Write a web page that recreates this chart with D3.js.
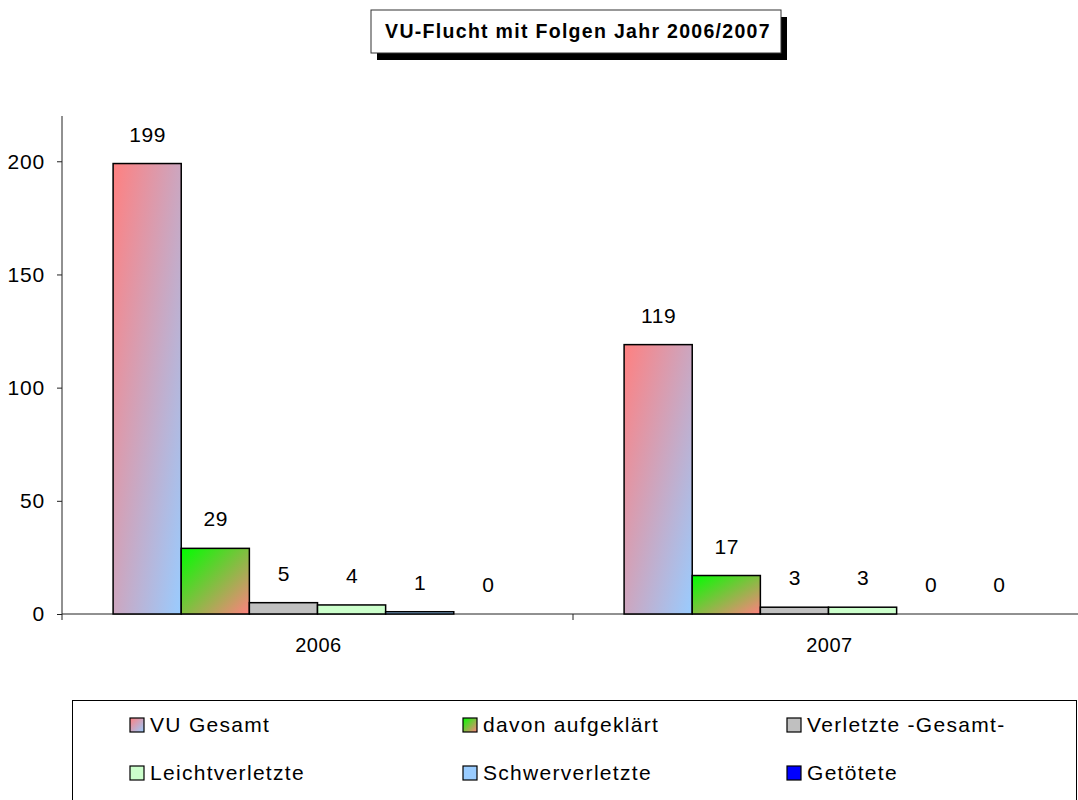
<!DOCTYPE html>
<html>
<head>
<meta charset="utf-8">
<script src="https://cdn.jsdelivr.net/npm/d3@7/dist/d3.min.js"></script>
<style>
  html, body { margin: 0; padding: 0; background: #fff; }
  svg { display: block; font-family: "Liberation Sans", Arial, sans-serif; }
</style>
</head>
<body>
<svg id="chart" width="1078" height="800"></svg>
<script>
const title = "VU-Flucht mit Folgen Jahr 2006/2007";
const categories = ["2006", "2007"];
const seriesNames = ["VU Gesamt", "davon aufgeklärt", "Verletzte -Gesamt-", "Leichtverletzte", "Schwerverletzte", "Getötete"];
const values2006 = [199, 29, 5, 4, 1, 0];
const values2007 = [119, 17, 3, 3, 0, 0];
const yTicks = [0, 50, 100, 150, 200];

const svg = d3.select("#chart");
const defs = svg.append("defs");

function grad(id, c1, c2) {
  const g = defs.append("linearGradient").attr("id", id)
    .attr("x1", 0).attr("y1", 0).attr("x2", 1).attr("y2", 1);
  g.append("stop").attr("offset", "0%").attr("stop-color", c1);
  g.append("stop").attr("offset", "100%").attr("stop-color", c2);
}
grad("g0", "#FF8080", "#99CCFF");
grad("g1", "#00FF00", "#FF8080");
const fills = ["url(#g0)", "url(#g1)", "#C0C0C0", "#CCFFCC", "#99CCFF", "#0000FF"];

const data = categories.map((c, i) => ({
  cat: c,
  vals: (i === 0 ? values2006 : values2007).map((v, j) => ({ s: seriesNames[j], v: v, j: j }))
}));

const x0 = d3.scaleBand().domain(categories).range([62, 1084]).paddingInner(0).paddingOuter(0);
const x1 = d3.scaleBand().domain(seriesNames).range([0, x0.bandwidth()]).paddingInner(0).paddingOuter(0.75);
const y = d3.scaleLinear().domain([0, 220]).range([614, 116]);

// Title box
const tb = { x: 371, y: 10, w: 410, h: 43 };
svg.append("rect").attr("x", tb.x + 6).attr("y", tb.y + 7).attr("width", tb.w).attr("height", tb.h).attr("fill", "#000");
svg.append("rect").attr("x", tb.x).attr("y", tb.y).attr("width", tb.w).attr("height", tb.h)
  .attr("fill", "#fff").attr("stroke", "#333").attr("stroke-width", 1);
svg.append("text").attr("x", tb.x + tb.w / 2 + 2).attr("y", tb.y + tb.h / 2).attr("dy", "0.35em")
  .attr("text-anchor", "middle").attr("font-weight", "bold").attr("font-size", 19.5)
  .attr("letter-spacing", 1.3).attr("fill", "#000")
  .text(title);

// Y axis
const yAxis = d3.axisLeft(y).tickValues(yTicks).tickSize(5).tickPadding(12).tickFormat(d3.format("d"));
const gy = svg.append("g").attr("transform", "translate(62,0)").call(yAxis);
gy.select(".domain").attr("d", `M0,${y(220)}V${y(0)}`).attr("stroke", "#222");
gy.selectAll(".tick line").attr("stroke", "#222");
gy.selectAll(".tick text").attr("font-size", 21).attr("letter-spacing", 0.8).attr("fill", "#000")
  .attr("font-family", "Liberation Sans, Arial, sans-serif");

// X axis
const gx = svg.append("g").attr("transform", `translate(0,${y(0)})`);
gx.append("line").attr("x1", 62).attr("x2", 1084).attr("y1", 0).attr("y2", 0).attr("stroke", "#222");
gx.selectAll("line.tk").data(categories).enter().append("line").attr("class", "tk")
  .attr("x1", d => x0(d)).attr("x2", d => x0(d)).attr("y1", 0).attr("y2", 6).attr("stroke", "#222");
gx.selectAll("text").data(categories).enter().append("text")
  .attr("x", d => x0(d) + x0.bandwidth() / 2 + 1).attr("y", 31).attr("dy", "0.35em")
  .attr("text-anchor", "middle").attr("font-size", 20).attr("letter-spacing", 0.5).attr("fill", "#000").text(d => d);

// Bars
const groups = svg.append("g").selectAll("g").data(data).enter().append("g")
  .attr("transform", d => `translate(${x0(d.cat)},0)`);
groups.selectAll("rect").data(d => d.vals.filter(e => e.v > 0)).enter().append("rect")
  .attr("x", d => x1(d.s)).attr("width", x1.bandwidth())
  .attr("y", d => y(d.v)).attr("height", d => y(0) - y(d.v))
  .attr("fill", d => fills[d.j]).attr("stroke", "#000").attr("stroke-width", 1.5);
groups.selectAll("text").data(d => d.vals).enter().append("text")
  .attr("x", d => x1(d.s) + x1.bandwidth() / 2 + 0.5).attr("y", d => y(d.v) - 22)
  .attr("text-anchor", "middle").attr("font-size", 21).attr("letter-spacing", 0.6).attr("fill", "#000").text(d => d.v);

// Legend
svg.append("rect").attr("x", 72.5).attr("y", 700.5).attr("width", 1004).attr("height", 120)
  .attr("fill", "#fff").attr("stroke", "#000").attr("stroke-width", 1);
const legCols = [130, 463, 787];
const legRows = [725, 773];
const leg = svg.append("g").selectAll("g").data(seriesNames).enter().append("g")
  .attr("transform", (d, i) => `translate(${legCols[i % 3]},${legRows[Math.floor(i / 3)]})`);
leg.append("rect").attr("x", 0).attr("y", -7).attr("width", 14).attr("height", 14)
  .attr("fill", (d, i) => fills[i]).attr("stroke", "#000").attr("stroke-width", 1.2);
leg.append("text").attr("x", 20).attr("y", 0).attr("dy", "0.35em").attr("font-size", 21)
  .attr("letter-spacing", 1.3).attr("fill", "#000").text(d => d);
</script>
</body>
</html>
